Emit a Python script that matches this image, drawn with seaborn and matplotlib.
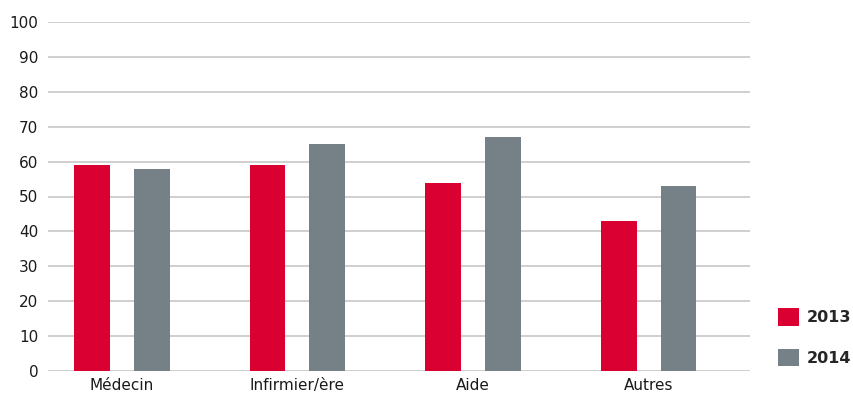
import matplotlib
matplotlib.use("Agg")
import matplotlib.pyplot as plt
import seaborn as sns
import pandas as pd

categories = ["Médecin", "Infirmier/ère", "Aide", "Autres"]
years = ["2013", "2014"]
values_2013 = [59, 59, 54, 43]
values_2014 = [58, 65, 67, 53]
yticks = [0, 10, 20, 30, 40, 50, 60, 70, 80, 90, 100]

df = pd.DataFrame({
    "cat": categories * 2,
    "year": [years[0]] * 4 + [years[1]] * 4,
    "val": values_2013 + values_2014,
})

sns.set_theme(style="white")
plt.rcParams["font.family"] = ["DejaVu Sans"]

fig = plt.figure(figsize=(8.54, 4.01), dpi=100)
ax = fig.add_axes([48/854, 30/401, (750-48)/854, (371-22)/401])

palette = {"2013": "#DB0032", "2014": "#768087"}
sns.barplot(data=df, x="cat", y="val", hue="year", palette=palette,
            width=0.68, gap=0.4, ax=ax, saturation=1, zorder=3, linewidth=0)

ax.set_ylim(0, 100)
ax.set_xlim(-0.42, 3.577)
ax.set_yticks(yticks)
ax.set_yticklabels([str(t) for t in yticks])
ax.grid(axis="y", color="#cccccc", linewidth=1.3, zorder=0)
ax.grid(axis="x", visible=False)
for s in ax.spines.values():
    s.set_visible(False)
ax.tick_params(axis="y", length=0, pad=7, labelsize=11, labelcolor="#1a1a1a")
ax.tick_params(axis="x", length=0, pad=5, labelsize=11, labelcolor="#1a1a1a")
ax.set_xlabel("")
ax.set_ylabel("")

leg = ax.legend(loc="upper left", bbox_to_anchor=(778/854, 1 - 308/401),
                bbox_transform=fig.transFigure, frameon=False,
                handlelength=1.32, handleheight=1.32, labelspacing=1.45,
                handletextpad=0.5, borderpad=0, borderaxespad=0,
                prop={"weight": "bold", "size": 11.5})

fig.savefig("out.png", dpi=100)
